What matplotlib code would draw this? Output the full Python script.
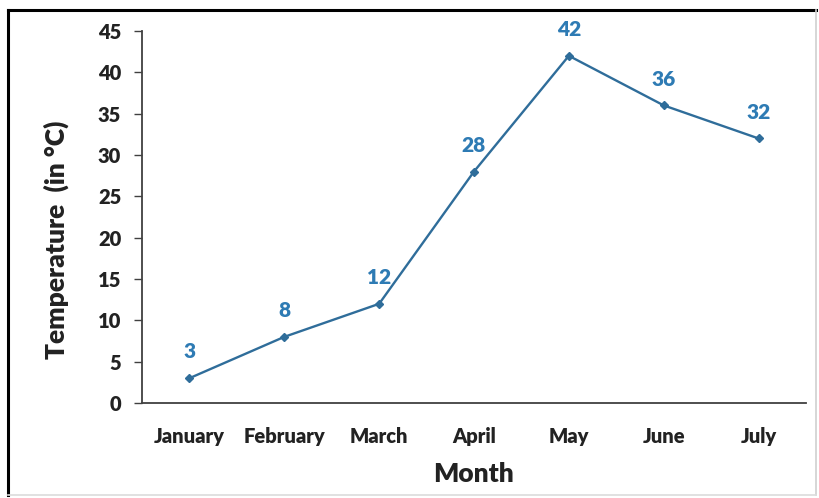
import matplotlib
matplotlib.use("Agg")
import matplotlib.pyplot as plt
from matplotlib.lines import Line2D

months = ["January", "February", "March", "April", "May", "June", "July"]
temps = [3, 8, 12, 28, 42, 36, 32]
yticks = [0, 5, 10, 15, 20, 25, 30, 35, 40, 45]

plt.rcParams['font.family'] = ['Lato', 'DejaVu Sans']

W, H = 820, 498
fig = plt.figure(figsize=(W/100, H/100), dpi=100)
ax = fig.add_axes([142/W, 1-403/H, (806-142)/W, (403-31)/H])

x = list(range(len(months)))
line_color = "#2f6d9a"
label_color = "#2e7bb4"
ax.plot(x, temps, color=line_color, lw=1.7, marker="D", ms=3.8,
        mfc=line_color, mec=line_color)
for xi, t in zip(x, temps):
    ax.annotate(str(t), (xi, t), xytext=(0, 19), textcoords="offset points",
                ha="center", va="center", color=label_color,
                fontsize=15, fontweight="heavy")

ax.set_xlim(-0.5, len(months) - 0.5)
ax.set_ylim(0, 45)
ax.set_yticks(yticks)
ax.set_xticks(x)
ax.set_xticklabels(months)
ax.tick_params(axis="x", length=0, pad=17, labelsize=14.5)
ax.tick_params(axis="y", length=6, width=1, direction="out", pad=9, labelsize=14.5,
               color="#404040")
for lab in ax.get_xticklabels() + ax.get_yticklabels():
    lab.set_fontweight("heavy")
    lab.set_color("#222222")
for s in ["top", "right"]:
    ax.spines[s].set_visible(False)
for s in ["left", "bottom"]:
    ax.spines[s].set_color("#404040")
    ax.spines[s].set_linewidth(1.3)

ax.set_xlabel("Month", fontsize=19, fontweight="heavy", labelpad=12, color="#222222")
ax.set_ylabel("Temperature  (in \u00b0C)", fontsize=19, fontweight="heavy",
              color="#222222")
ax.yaxis.set_label_coords(-0.11, 0.44)

# outer frame
fig.add_artist(Line2D([8/W, 816/W], [1-10/H, 1-10/H], color="black", lw=2.2,
                      transform=fig.transFigure))
fig.add_artist(Line2D([8/W, 8/W], [1-10/H, 1-495/H], color="black", lw=2.2,
                      transform=fig.transFigure))
fig.add_artist(Line2D([816/W, 816/W], [1-10/H, 1-495/H], color="#cfcfcf", lw=1.2,
                      transform=fig.transFigure))
fig.add_artist(Line2D([8/W, 816/W], [1-495/H, 1-495/H], color="#dcdcdc", lw=1.2,
                      transform=fig.transFigure))

fig.savefig("out.png", dpi=100)
